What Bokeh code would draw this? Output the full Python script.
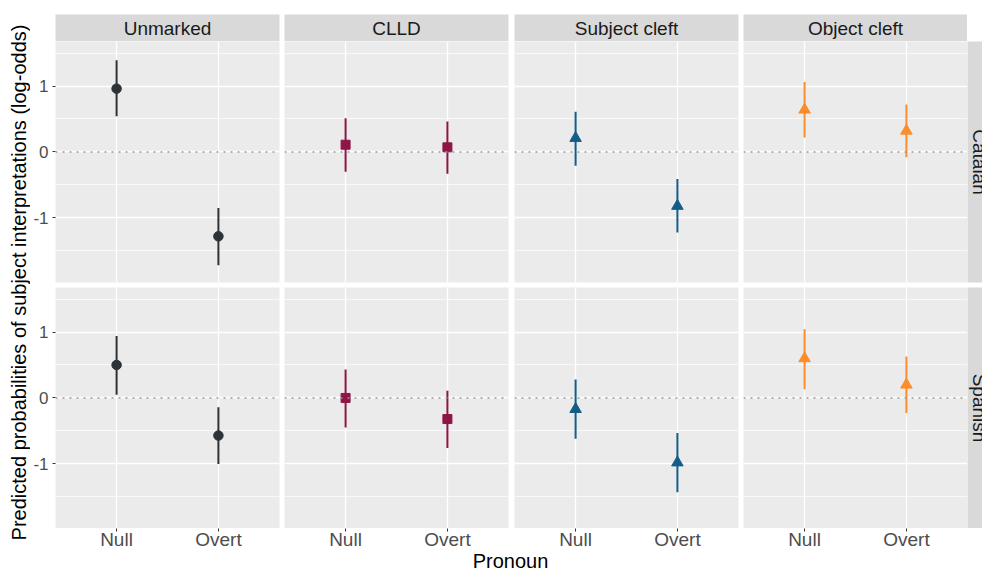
import math
from bokeh.plotting import figure
from bokeh.models import (Range1d, FactorRange, FixedTicker, Span, Label,
                          ColumnDataSource, Spacer)
from bokeh.layouts import row, column
from bokeh.embed import file_html
from bokeh.resources import INLINE

# ---------------- data ----------------
constructions = ["Unmarked", "CLLD", "Subject cleft", "Object cleft"]
languages = ["Catalan", "Spanish"]
pronouns = ["Null", "Overt"]

# per construction: [Null, Overt]  (log-odds)
catalan_est = [[0.96, -1.28], [0.11, 0.07], [0.21, -0.82], [0.64, 0.32]]
catalan_lo = [[0.54, -1.72], [-0.30, -0.33], [-0.21, -1.22], [0.22, -0.08]]
catalan_hi = [[1.39, -0.85], [0.51, 0.46], [0.61, -0.41], [1.06, 0.72]]

spanish_est = [[0.50, -0.57], [0.00, -0.32], [-0.17, -0.98], [0.60, 0.20]]
spanish_lo = [[0.05, -1.00], [-0.45, -0.76], [-0.62, -1.43], [0.13, -0.23]]
spanish_hi = [[0.94, -0.14], [0.43, 0.11], [0.28, -0.53], [1.04, 0.63]]

y_ticks = [-1, 0, 1]
y_tick_labels = ["-1", "0", "1"]
y_minor = [-1.5, -0.5, 0.5, 1.5]
Y_RANGE = (-1.98, 1.675)

x_title = "Pronoun"
y_title = "Predicted probabilities of subject interpretations (log-odds)"

# ---------------- styles ----------------
colors = ["#2d3237", "#8e1546", "#135d89", "#fc8d2a"]
markers = ["circle", "square", "triangle", "triangle"]
msizes = [9.5, 9, 11.5, 11.5]
FONT = "Liberation Sans"

FRAME_W, FRAME_H = 224, 241
GAPS = [5, 6, 5, 0]
YLAB_W = 30
YAXIS_W = 25
RSTRIP_W = 15
TOP_PAD, STRIP_H = 14, 27
ROW_GAP = 5
XAXIS_H = 23
XTITLE_H = 18
TOTAL_H = 569

ests = [catalan_est, spanish_est]
los = [catalan_lo, spanish_lo]
his = [catalan_hi, spanish_hi]


def base_fig(width, height, x_range, y_range, x_loc=None, y_loc=None, **kw):
    p = figure(width=width, height=height, x_range=x_range, y_range=y_range,
               output_backend="svg", toolbar_location=None,
               x_axis_location=x_loc, y_axis_location=y_loc,
               min_border=0, **kw)
    p.outline_line_color = None
    p.border_fill_color = "white"
    return p


def make_panel(ci, li):
    left = YAXIS_W if ci == 0 else 0
    right = GAPS[ci]
    bottom = ROW_GAP if li == 0 else 0
    p = base_fig(left + FRAME_W + right, FRAME_H + bottom,
                 FactorRange(factors=pronouns, range_padding=0.1),
                 Range1d(*Y_RANGE),
                 y_loc="left" if ci == 0 else None,
                 min_border_left=left, min_border_right=right,
                 min_border_bottom=bottom, min_border_top=0)
    p.background_fill_color = "#ebebeb"
    p.xgrid.grid_line_color = "white"
    p.xgrid.grid_line_width = 1.3
    p.ygrid.ticker = FixedTicker(ticks=y_ticks, minor_ticks=y_minor)
    p.ygrid.grid_line_color = "white"
    p.ygrid.grid_line_width = 1.3
    p.ygrid.minor_grid_line_color = "white"
    p.ygrid.minor_grid_line_width = 0.7

    p.add_layout(Span(location=0, dimension="width", line_color="#9a9a9a",
                      line_width=1.5, line_dash="2 5"))

    src = ColumnDataSource(dict(pron=pronouns, est=ests[li][ci],
                                lo=los[li][ci], hi=his[li][ci]))
    p.segment(x0="pron", y0="lo", x1="pron", y1="hi", source=src,
              line_color=colors[ci], line_width=2)
    p.scatter(x="pron", y="est", source=src, marker=markers[ci],
              size=msizes[ci], fill_color=colors[ci], line_color=colors[ci])

    if ci == 0:
        ax = p.yaxis[0]
        ax.ticker = FixedTicker(ticks=y_ticks)
        ax.major_label_overrides = dict(zip(y_ticks, y_tick_labels))
        ax.major_label_text_font_size = "17px"
        ax.major_label_text_font = FONT
        ax.major_label_text_color = "#4d4d4d"
        ax.major_tick_out = 3
        ax.major_tick_in = 0
        ax.minor_tick_out = 0
        ax.minor_tick_in = 0
        ax.major_tick_line_color = "#333333"
        ax.axis_line_color = None
        ax.major_label_standoff = 4
    return p


def make_top_strip(ci):
    left = YAXIS_W if ci == 0 else 0
    right = GAPS[ci]
    s = base_fig(left + FRAME_W + right, TOP_PAD + STRIP_H,
                 Range1d(0, 1), Range1d(0, 1),
                 min_border_left=left, min_border_right=right,
                 min_border_top=TOP_PAD, min_border_bottom=0)
    s.grid.visible = False
    s.background_fill_color = "#d9d9d9"
    s.add_layout(Label(x=0.5, y=0.5, text=constructions[ci],
                       text_align="center", text_baseline="middle",
                       text_font_size="19px", text_font=FONT,
                       text_color="#1a1a1a"))
    return s


def make_side_strip(li):
    bottom = ROW_GAP if li == 0 else 0
    s = base_fig(RSTRIP_W, FRAME_H + bottom, Range1d(0, RSTRIP_W), Range1d(0, 1),
                 min_border_bottom=bottom)
    s.grid.visible = False
    s.background_fill_color = "#d9d9d9"
    s.add_layout(Label(x=12, y=0.5, text=languages[li], angle=-math.pi / 2,
                       text_align="center", text_baseline="middle",
                       text_font_size="19px", text_font=FONT,
                       text_color="#1a1a1a"))
    return s


# y-axis title column
ylab = base_fig(YLAB_W, TOTAL_H, Range1d(0, YLAB_W), Range1d(0, TOTAL_H))
ylab.grid.visible = False
ylab.background_fill_color = "white"
ylab.add_layout(Label(x=18, y=TOTAL_H - 282, text=y_title, angle=math.pi / 2,
                      text_align="center", text_baseline="middle",
                      text_font_size="20px", text_font=FONT, text_color="black"))

strip_row = row(*[make_top_strip(ci) for ci in range(4)],
                Spacer(width=RSTRIP_W, height=TOP_PAD + STRIP_H))
panel_rows = []
for li in range(2):
    panel_rows.append(row(*[make_panel(ci, li) for ci in range(4)],
                          make_side_strip(li)))

# bottom x axis shared by the panel columns
unit = FRAME_W / 2.2
offsets = [0]
for ci in range(3):
    offsets.append(offsets[-1] + FRAME_W + GAPS[ci])
tick_pos = []
tick_lab = {}
for ci in range(4):
    for i, pr in enumerate(pronouns):
        t = int(round(offsets[ci] + (i + 0.6) * unit))
        tick_pos.append(t)
        tick_lab[t] = pr
span_w = offsets[-1] + FRAME_W
full_w = YAXIS_W + span_w + RSTRIP_W

bot = base_fig(full_w, XAXIS_H,
               Range1d(0, span_w), Range1d(0, 1), x_loc="below",
               min_border_left=YAXIS_W, min_border_right=RSTRIP_W,
               min_border_top=0, min_border_bottom=XAXIS_H - 1)
bot.grid.visible = False
bot.background_fill_color = "white"
xa = bot.xaxis[0]
xa.ticker = FixedTicker(ticks=tick_pos)
xa.major_label_overrides = tick_lab
xa.major_label_text_font_size = "19px"
xa.major_label_text_font = FONT
xa.major_label_text_color = "#4d4d4d"
xa.major_tick_out = 3
xa.major_tick_in = 0
xa.minor_tick_out = 0
xa.minor_tick_in = 0
xa.major_tick_line_color = "#333333"
xa.axis_line_color = None
xa.major_label_standoff = -3

# x-axis title strip
xt = base_fig(full_w, XTITLE_H, Range1d(0, full_w), Range1d(0, XTITLE_H))
xt.grid.visible = False
xt.background_fill_color = "white"
xt.add_layout(Label(x=YAXIS_W + span_w / 2 - 6, y=9, text=x_title,
                    text_align="center", text_baseline="middle",
                    text_font_size="20px", text_font=FONT, text_color="black"))

layout = row(ylab, column(strip_row, panel_rows[0], panel_rows[1], bot, xt))

open("out.html", "w").write(file_html(layout, INLINE))
